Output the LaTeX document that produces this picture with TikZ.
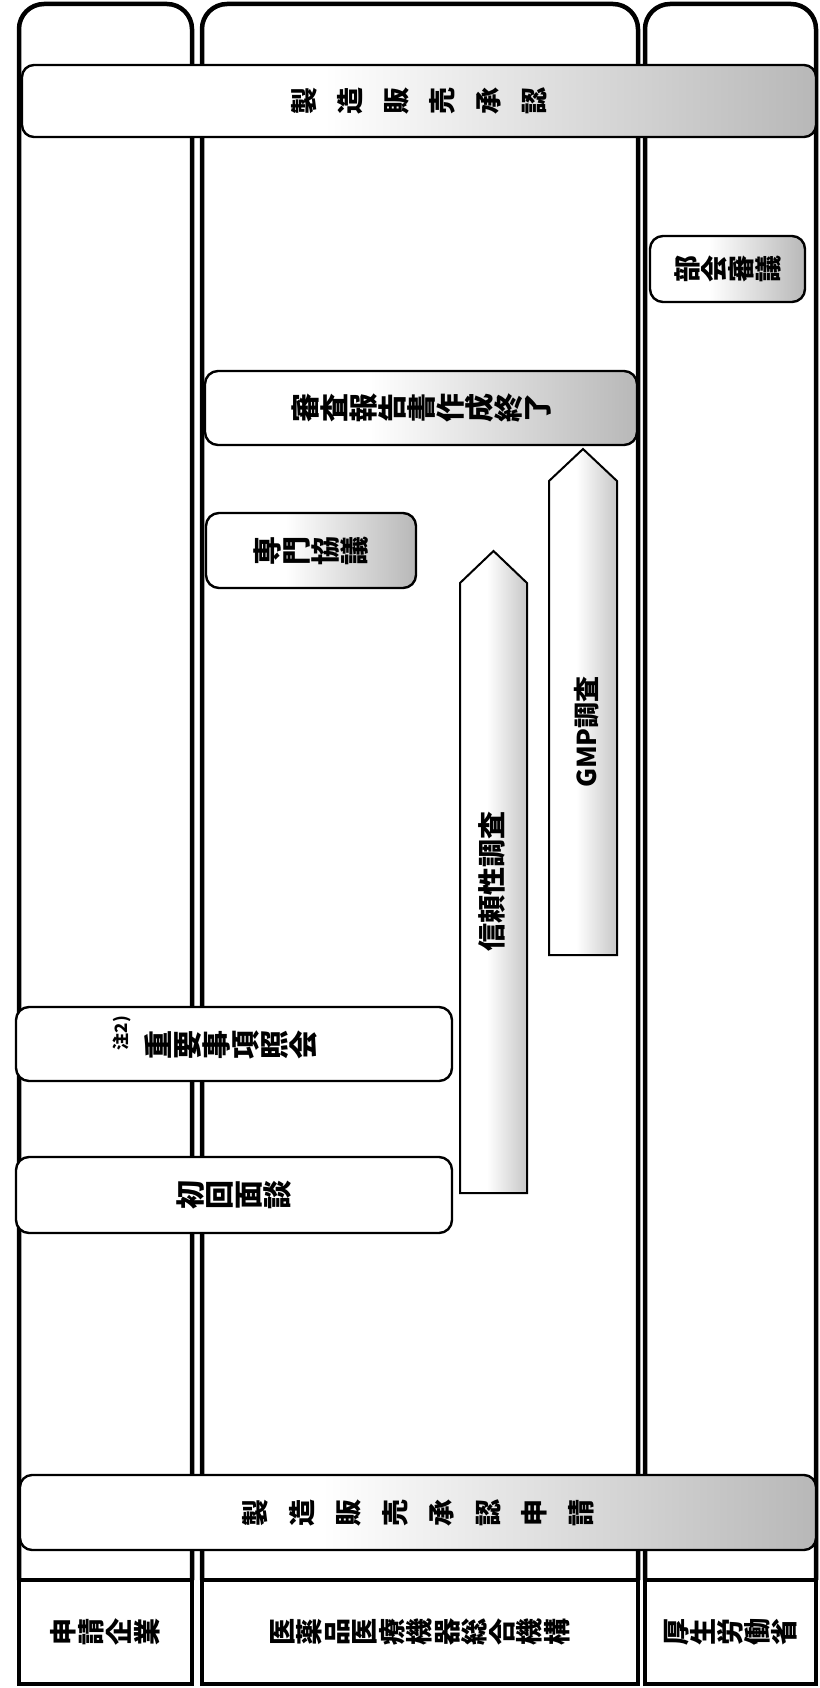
\documentclass[tikz,border=0pt]{standalone}
\usepackage{fontspec}
\setmainfont{Noto Sans CJK JP}
\newcommand\jf[2]{\bfseries\fontsize{#1pt}{#2pt}\selectfont\lineskiplimit=-100pt\relax\lineskip=0pt\relax}
\pgfdeclarehorizontalshading{tone}{100bp}{color(0bp)=(white); color(44bp)=(white); color(75bp)=(black!28); color(100bp)=(black!28)}
\pgfdeclarehorizontalshading{tonearrow}{100bp}{color(0bp)=(white); color(45bp)=(white); color(75bp)=(black!22); color(100bp)=(black!22)}
\begin{document}
\begin{tikzpicture}[x=1pt,y=-1pt,
  lane/.style={line width=4.5pt},
  lblbox/.style={draw, line width=4.5pt, inner sep=0pt},
  plainbox/.style={draw, line width=2.4pt, rounded corners=13pt, inner sep=0pt, fill=white},
  tonebox/.style={draw, line width=2.4pt, rounded corners=13pt, inner sep=0pt, shading=tone},
  arrowbody/.style={draw, line width=2pt, shading=tonearrow},
  jt/.style={inner sep=0pt, align=center, rotate=90},
]
\useasboundingbox (0,0) rectangle (819,1688);
% swim lanes
\draw[lane, rounded corners=25pt] (19,1580) -- (19,4) -- (192,4) -- (192,1580);
\draw[lane, rounded corners=25pt] (202,1580) -- (202,4) -- (638,4) -- (638,1580);
\draw[lane, rounded corners=25pt] (645,1580) -- (645,4) -- (816,4) -- (816,1580);
% lane labels
\node[lblbox, minimum width=173pt, minimum height=104pt] (lblA) at (105.5,1632) {};
\node[lblbox, minimum width=436pt, minimum height=104pt] (lblB) at (420,1632) {};
\node[lblbox, minimum width=171pt, minimum height=104pt] (lblC) at (730.5,1632) {};
\node[jt, font=\jf{27}{28}] (tA) at (lblA.center) {申\\請\\企\\業};
\node[jt, font=\jf{27}{27.5}] (tB) at (lblB.center) {医\\薬\\品\\医\\療\\機\\器\\総\\合\\機\\構};
\node[jt, font=\jf{27}{27}] (tC) at (lblC.center) {厚\\生\\労\\働\\省};
% bars
\node[tonebox, rounded corners=12pt, minimum width=794pt, minimum height=72pt] (approval) at (419,101) {};
\node[jt, font=\jf{27}{46}] (tApproval) at (approval.center) {製\\造\\販\\売\\承\\認};
\node[tonebox, rounded corners=12pt, minimum width=796pt, minimum height=75pt] (application) at (418,1512.5) {};
\node[jt, font=\jf{27}{46.5}] (tApplication) at (application.center) {製\\造\\販\\売\\承\\認\\申\\請};
% boxes
\node[tonebox, minimum width=155pt, minimum height=66pt] (bukai) at (727.5,269) {};
\node[jt, font=\jf{27}{27}] (tBukai) at (bukai.center) {部\\会\\審\\議};
\node[tonebox, minimum width=432pt, minimum height=74pt] (report) at (421,408) {};
\node[jt, font=\jf{29}{29}] (tReport) at (report.center) {審\\査\\報\\告\\書\\作\\成\\終\\了};
\node[tonebox, minimum width=210pt, minimum height=75pt] (senmon) at (311,550.5) {};
\node[jt, font=\jf{29}{29}] (tSenmon) at (senmon.center) {専\\門\\協\\議};
\node[plainbox, minimum width=436pt, minimum height=74pt] (juyo) at (234,1044) {};
\node[jt, font=\jf{29}{29}] (tJuyo) at (231,1045) {重\\要\\事\\項\\照\\会};
\node[jt, font=\jf{17}{17}] (note) at (122,1033) {注2)};
\node[plainbox, minimum width=436pt, minimum height=76pt] (shokai) at (234,1195) {};
\node[jt, font=\jf{29}{29}] (tShokai) at (shokai.center) {初\\回\\面\\談};
% block arrows
\draw[arrowbody] (460,1193) -- (460,583) -- (493.5,551) -- (527,583) -- (527,1193) -- cycle;
\node[jt, font=\jf{28}{28}] (shinrai) at (492,881) {信頼性調査};
\draw[arrowbody] (549,955) -- (549,481) -- (583,449) -- (617,481) -- (617,955) -- cycle;
\node[jt, font=\jf{26}{26}] (gmp) at (587,732) {GMP調査};
\end{tikzpicture}
\end{document}
